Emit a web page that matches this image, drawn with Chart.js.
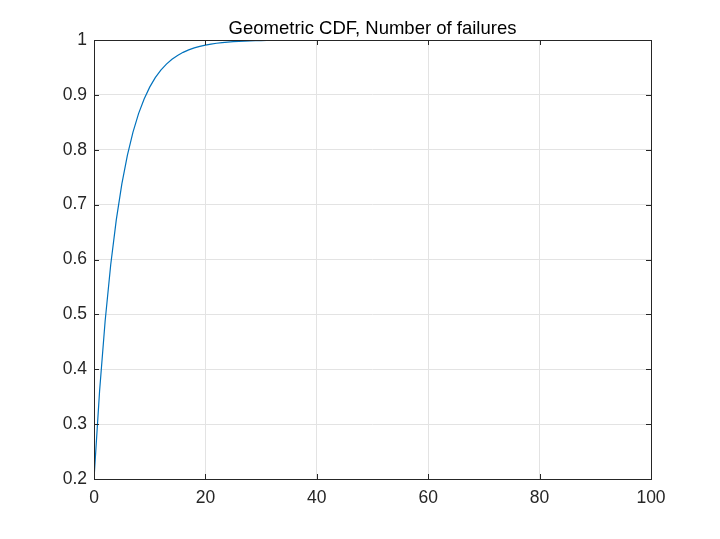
<!DOCTYPE html>
<html>
<head>
<meta charset="utf-8">
<script src="https://cdn.jsdelivr.net/npm/chart.js@4/dist/chart.umd.min.js"></script>
<style>
html,body{margin:0;padding:0;background:#fff;}
#wrap{width:720px;height:539px;position:relative;}
</style>
</head>
<body>
<div id="wrap"><canvas id="c" width="720" height="539"></canvas></div>
<script>
const titleText = "Geometric CDF, Number of failures";
const xValues = [0,1,2,3,4,5,6,7,8,9,10,11,12,13,14,15,16,17,18,19,20,21,22,23,24,25,26,27,28,29,30,31,32,33,34,35,40,45,50,60,70,80,90,100];
const cdfValues = [0.2,0.36,0.488,0.5904,0.6723,0.7379,0.7903,0.8322,0.8658,0.8926,0.9141,0.9313,0.9450,0.9560,0.9648,0.9719,0.9775,0.9820,0.9856,0.9885,0.9908,0.9926,0.9941,0.9953,0.9962,0.9970,0.9976,0.9981,0.9985,0.9988,0.9990,0.9992,0.9994,0.9995,0.9996,0.9997,0.9999,1.0,1.0,1.0,1.0,1.0,1.0,1.0];
const xTicks = [0,20,40,60,80,100];
const yTicks = [0.2,0.3,0.4,0.5,0.6,0.7,0.8,0.9,1];

const axisColor = '#262626';
const gridColor = '#e3e3e3';
const tickFont = {family:'Arial, "Liberation Sans", Helvetica, sans-serif', size:17.5};

const points = xValues.map((x,i)=>({x:x, y:cdfValues[i]}));

const boxPlugin = {
  id:'boxPlugin',
  afterDraw(chart){
    const ctx = chart.ctx, a = chart.chartArea;
    const xs = chart.scales.x, ys = chart.scales.y;
    ctx.save();
    ctx.strokeStyle = axisColor;
    ctx.lineWidth = 1;
    ctx.strokeRect(Math.round(a.left)+0.5, Math.round(a.top)+0.5, Math.round(a.right-a.left), Math.round(a.bottom-a.top));
    const L = 5;
    ctx.beginPath();
    xTicks.forEach(v=>{
      const px = Math.round(xs.getPixelForValue(v))+0.5;
      ctx.moveTo(px, a.bottom); ctx.lineTo(px, a.bottom-L);
      ctx.moveTo(px, a.top); ctx.lineTo(px, a.top+L);
    });
    yTicks.forEach(v=>{
      const py = Math.round(ys.getPixelForValue(v))+0.5;
      ctx.moveTo(a.left, py); ctx.lineTo(a.left+L, py);
      ctx.moveTo(a.right, py); ctx.lineTo(a.right-L, py);
    });
    ctx.stroke();
    ctx.fillStyle = '#000';
    ctx.font = '18.5px Arial, "Liberation Sans", Helvetica, sans-serif';
    ctx.textAlign = 'center';
    ctx.textBaseline = 'alphabetic';
    ctx.fillText(titleText, (a.left+a.right)/2, 33.5);
    ctx.restore();
  }
};

new Chart(document.getElementById('c'), {
  type:'scatter',
  data:{datasets:[{
    data:points,
    showLine:true,
    borderColor:'#0072BD',
    borderWidth:1.2,
    pointRadius:0,
    fill:false,
    tension:0
  }]},
  options:{
    responsive:false,
    animation:false,
    layout:{padding:{left:44, right:69, top:40, bottom:0}},
    plugins:{legend:{display:false}, title:{display:false}, tooltip:{enabled:false}},
    scales:{
      x:{
        type:'linear', min:0, max:100,
        afterFit(s){ s.height = 60; },
        afterBuildTicks(s){ s.ticks = xTicks.map(v=>({value:v})); },
        grid:{color:gridColor, drawTicks:false, lineWidth:1},
        border:{display:false},
        ticks:{color:axisColor, font:tickFont, padding:9, maxRotation:0, callback:v=>String(v)}
      },
      y:{
        type:'linear', min:0.2, max:1,
        afterFit(s){ s.width = 50; },
        afterBuildTicks(s){ s.ticks = yTicks.map(v=>({value:v})); },
        grid:{color:gridColor, drawTicks:false, lineWidth:1},
        border:{display:false},
        ticks:{color:axisColor, font:tickFont, padding:7, callback:v=>String(Math.round(v*10)/10)}
      }
    }
  },
  plugins:[boxPlugin]
});
</script>
</body>
</html>
